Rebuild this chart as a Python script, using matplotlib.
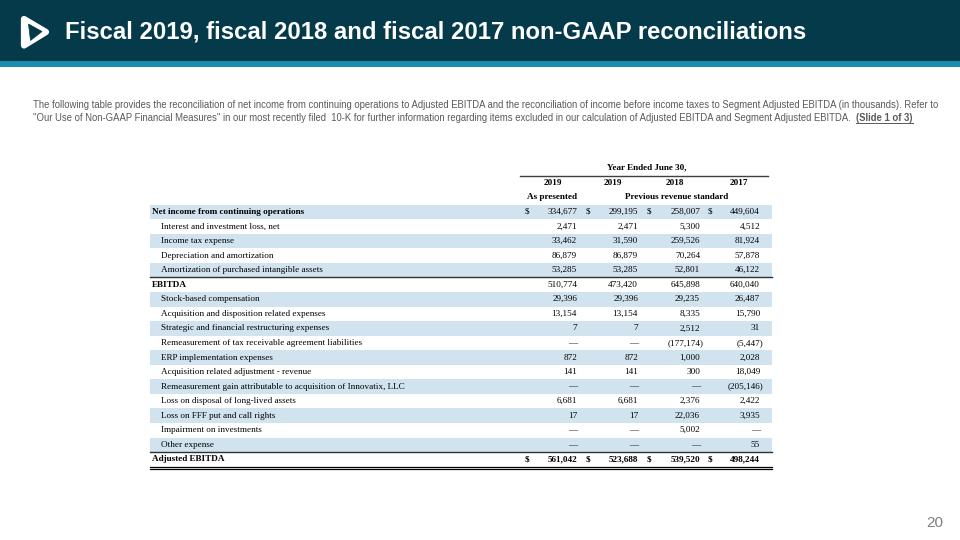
import matplotlib
matplotlib.use('Agg')
import matplotlib.pyplot as plt
from matplotlib.patches import Rectangle, Polygon

# ---- data (in thousands) ----
row_labels = [
    'Net income from continuing operations',
    'Interest and investment loss, net',
    'Income tax expense',
    'Depreciation and amortization',
    'Amortization of purchased intangible assets',
    'EBITDA',
    'Stock-based compensation',
    'Acquisition and disposition related expenses',
    'Strategic and financial restructuring expenses',
    'Remeasurement of tax receivable agreement liabilities',
    'ERP implementation expenses',
    'Acquisition related adjustment - revenue',
    'Remeasurement gain attributable to acquisition of Innovatix, LLC',
    'Loss on disposal of long-lived assets',
    'Loss on FFF put and call rights',
    'Impairment on investments',
    'Other expense',
    'Adjusted EBITDA',
]
bold_rows = ['Net income from continuing operations', 'EBITDA', 'Adjusted EBITDA']
dollar_rows = ['Net income from continuing operations', 'Adjusted EBITDA']

col_years = ['2019', '2019', '2018', '2017']
fy2019_as_presented = [334677, 2471, 33462, 86879, 53285, 510774, 29396, 13154, 7,
                       None, 872, 141, None, 6681, 17, None, None, 561042]
fy2019_previous = [299195, 2471, 31590, 86879, 53285, 473420, 29396, 13154, 7,
                   None, 872, 141, None, 6681, 17, None, None, 523688]
fy2018_previous = [258007, 5300, 259526, 70264, 52801, 645898, 29235, 8335, 2512,
                   -177174, 1000, 300, None, 2376, 22036, 5002, None, 539520]
fy2017_previous = [449604, 4512, 81924, 57878, 46122, 640040, 26487, 15790, 31,
                   -5447, 2028, 18049, -205146, 2422, 3935, None, 55, 498244]
columns = [fy2019_as_presented, fy2019_previous, fy2018_previous, fy2017_previous]

title = 'Fiscal 2019, fiscal 2018 and fiscal 2017 non-GAAP reconciliations'
intro_1 = ('The following table provides the reconciliation of net income from continuing operations '
           'to Adjusted EBITDA and the reconciliation of income before income taxes to Segment Adjusted '
           'EBITDA (in thousands). Refer to')
intro_2 = ('"Our Use of Non-GAAP Financial Measures" in our most recently filed  10-K for further '
           'information regarding items excluded in our calculation of Adjusted EBITDA and Segment '
           'Adjusted EBITDA.  ')
slide_tag = '(Slide 1 of 3)'
page_no = '20'

# ---- colours / layout ----
dark = '#053a4b'
teal = '#1a8db0'
shade = '#d1e3ee'
gray = '#595959'
serif = 'Liberation Serif'
sans = 'Liberation Sans'

fig = plt.figure(figsize=(9.6, 5.4), dpi=100)
ax = fig.add_axes([0, 0, 1, 1])
ax.set_xlim(0, 960)
ax.set_ylim(540, 0)
ax.axis('off')

# header band
ax.add_patch(Rectangle((0, 0), 960, 61, color=dark, lw=0))
ax.add_patch(Rectangle((0, 61), 960, 6, color=teal, lw=0))
# logo (rough)
ax.add_patch(Polygon([(24, 19), (46, 32), (24, 45.5)], closed=True, fc='white', ec='white',
                     lw=4.5, joinstyle='round'))
ax.add_patch(Polygon([(28.5, 24), (42, 31.5), (30.5, 40.5)], closed=True, fc=dark, ec=dark, lw=0.5))
ax.text(65, 32, title, color='white', fontsize=17.2, fontweight='bold', family=sans,
        va='center', ha='left')

# intro paragraph
fs_intro = 6.85
ax.text(33, 105, intro_1, color=gray, fontsize=fs_intro, family=sans, va='center')
t2 = ax.text(33, 118, intro_2, color=gray, fontsize=fs_intro, family=sans, va='center')
fig.canvas.draw()
r = fig.canvas.get_renderer()
bb = t2.get_window_extent(renderer=r)
x_tag = bb.x1
t3 = ax.text(x_tag, 118, slide_tag, color=gray, fontsize=fs_intro, family=sans, fontweight='bold',
             va='center')
bb3 = t3.get_window_extent(renderer=r)
ax.plot([bb3.x0, bb3.x1], [123, 123], color=gray, lw=0.7)

ax.text(943, 523, page_no, color='#7f7f7f', fontsize=11, family=sans, ha='right', va='center')

# ---- table ----
tx0, tx1 = 150, 772
y0 = 212
dy = 14.55
fs = 6.6
val_right = [577, 638, 700, 760]
dollar_x = [525, 586, 647, 708]
head_x = [553, 613, 675, 739]

ax.text(647, 167, 'Year Ended June 30,', family=serif, fontsize=fs, fontweight='bold',
        ha='center', va='center')
ax.plot([520, 768], [175.5, 175.5], color='#404040', lw=1.0)
for hx, yr in zip(head_x, col_years):
    ax.text(hx, 183, yr, family=serif, fontsize=fs, fontweight='bold', ha='center', va='center')
ax.text(552, 197, 'As presented', family=serif, fontsize=fs, fontweight='bold', ha='center',
        va='center')
ax.text(677, 197, 'Previous revenue standard', family=serif, fontsize=fs, fontweight='bold',
        ha='center', va='center')


def fmt(v):
    if v is None:
        return '\u2014'
    if v < 0:
        return '({:,})'.format(-v)
    return '{:,}'.format(v)


for i, lab in enumerate(row_labels):
    yc = y0 + i * dy
    if i % 2 == 0 and lab != 'Adjusted EBITDA':
        ax.add_patch(Rectangle((tx0, yc - dy / 2), tx1 - tx0, dy, color=shade, lw=0))
    is_bold = lab in bold_rows
    wt = 'bold' if is_bold else 'normal'
    lx = 152 if is_bold else 161
    ax.text(lx, yc, lab, family=serif, fontsize=fs, fontweight=wt, va='center', ha='left')
    for c, col in enumerate(columns):
        v = col[i]
        xr = val_right[c] + (3.5 if (v is not None and v < 0) else 0)
        ax.text(xr, yc, fmt(v), family=serif, fontsize=fs,
                fontweight='bold' if lab == 'Adjusted EBITDA' else 'normal', va='center', ha='right')
        if lab in dollar_rows:
            ax.text(dollar_x[c], yc, '$', family=serif, fontsize=fs,
                    fontweight='bold' if lab == 'Adjusted EBITDA' else 'normal', va='center',
                    ha='left')

# rules
y_ebitda_top = y0 + 4.5 * dy
ax.plot([tx0, tx1], [y_ebitda_top, y_ebitda_top], color='#303030', lw=1.0)
y_adj_top = y0 + 16.5 * dy
ax.plot([tx0, tx1], [y_adj_top, y_adj_top], color='#303030', lw=1.0)
y_bot = y0 + 17.5 * dy
ax.plot([tx0, tx1], [y_bot, y_bot], color='black', lw=0.9)
ax.plot([tx0, tx1], [y_bot + 2, y_bot + 2], color='black', lw=0.9)

fig.savefig('out.png', dpi=100)
